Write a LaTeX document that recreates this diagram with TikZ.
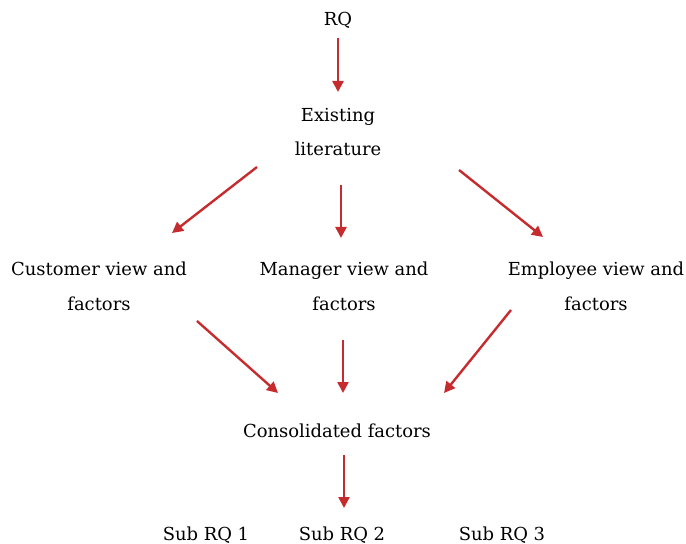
\documentclass[tikz,border=0pt]{standalone}
\usepackage{fontspec}
\setmainfont{DejaVu Serif}
\usetikzlibrary{positioning,arrows.meta}
\definecolor{arrred}{RGB}{198,44,46}
\tikzset{%
  txt/.style={align=center,inner sep=0pt,font=\fontsize{18}{35}\selectfont},
  arr/.style={draw=arrred,line width=2.4bp,-{Triangle[length=11bp,width=11bp]}}
}

\begin{document}
\begin{tikzpicture}[x=1bp,y=-1bp]
  \useasboundingbox (0,0) rectangle (686,544);

  \node[txt] (rq) at (338,20) {RQ};
  \node[txt] (lit) at (338,132) {Existing\\literature};

  \node[txt] (cust) at (99,286) {Customer view and\\factors};
  \node[txt] (man) at (344,286) {Manager view and\\factors};
  \node[txt] (emp) at (596,286) {Employee view and\\factors};

  \node[txt] (cons) at (337,431) {Consolidated factors};

  \node[txt] (sub1) at (206,535) {Sub RQ 1};
  \node[txt] (sub2) at (342,535) {Sub RQ 2};
  \node[txt] (sub3) at (502,535) {Sub RQ 3};

  % arrows
  \draw[arr] ([shift={(0,18)}]rq.center) -- ([shift={(0,-40)}]lit.center);

  \draw[arr] ([shift={(-81,35)}]lit.center) -- ([shift={(73,-53)}]cust.center);
  \draw[arr] ([shift={(3,53)}]lit.center) -- ([shift={(-3,-48)}]man.center);
  \draw[arr] ([shift={(121,38)}]lit.center) -- ([shift={(-53,-49)}]emp.center);

  \draw[arr] ([shift={(98,35)}]cust.center) -- ([shift={(-59,-38)}]cons.center);
  \draw[arr] ([shift={(-1,54)}]man.center) -- ([shift={(6,-38)}]cons.center);
  \draw[arr] ([shift={(-85,24)}]emp.center) -- ([shift={(107,-38)}]cons.center);

  \draw[arr] ([shift={(7,24)}]cons.center) -- ([shift={(2,-27)}]sub2.center);
\end{tikzpicture}
\end{document}
